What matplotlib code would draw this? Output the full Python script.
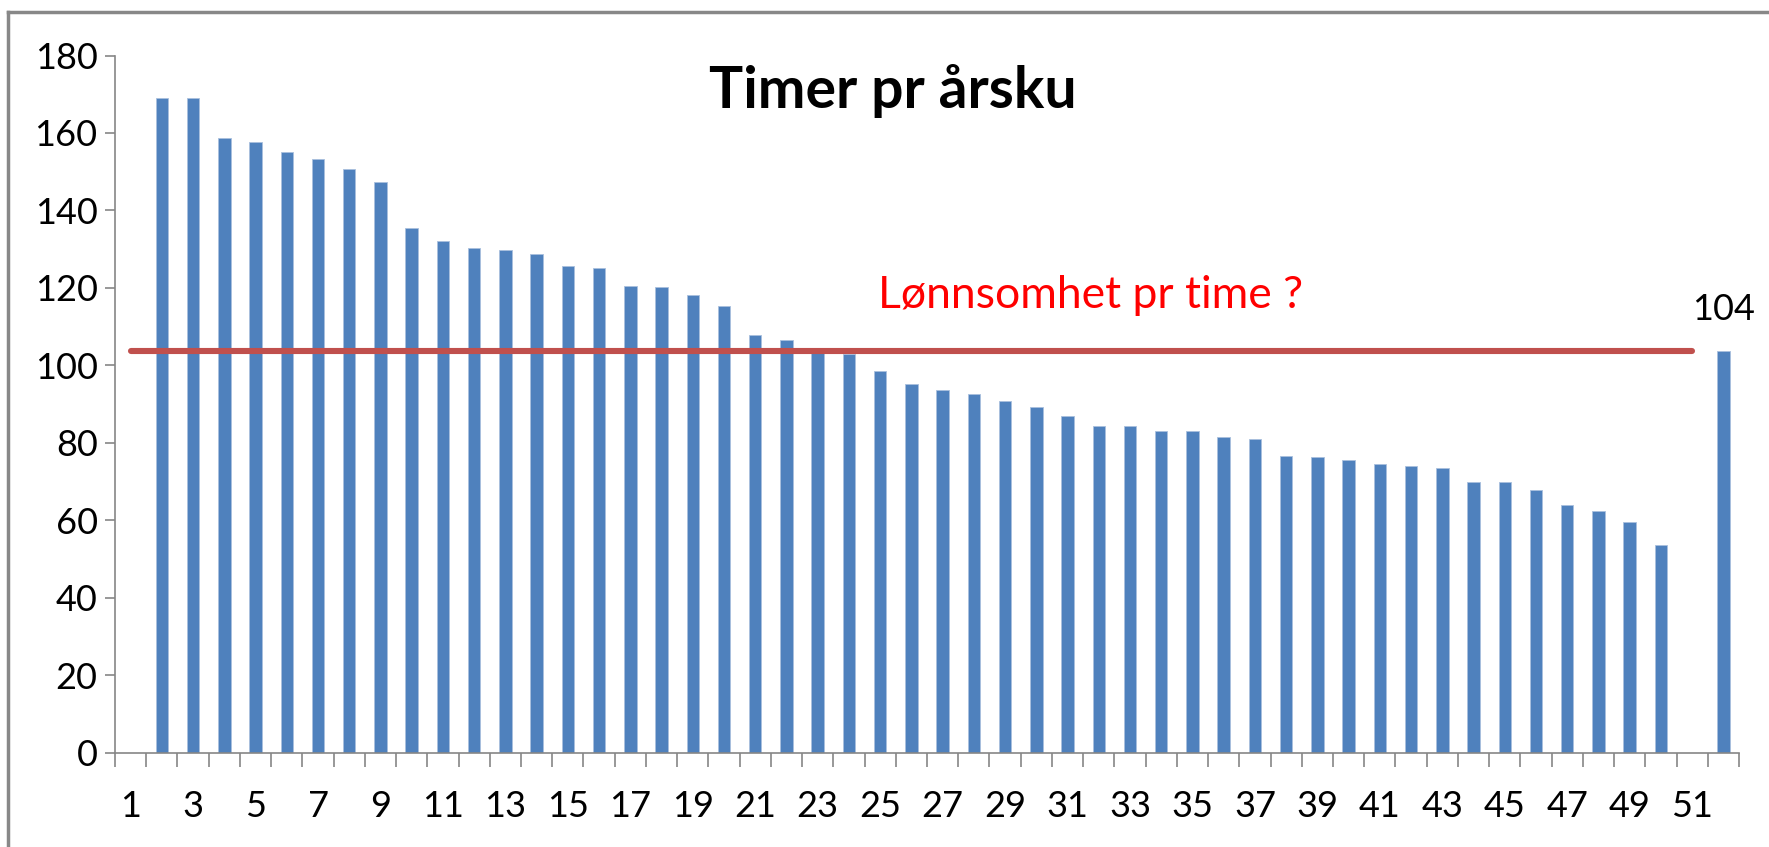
import numpy as np
import matplotlib
matplotlib.use("Agg")
import matplotlib.pyplot as plt
from matplotlib.lines import Line2D

plt.rcParams['font.family'] = ['Lato', 'DejaVu Sans']

# categories 1..52, category 1 and 51 are empty
categories = list(range(1, 53))
hours = [np.nan,
         169.0, 169.0, 158.7, 157.6, 155.2, 153.2, 150.7, 147.3, 135.5, 132.1,
         130.2, 129.7, 128.7, 125.6, 125.1, 120.6, 120.1, 118.2, 115.2, 107.9,
         106.5, 103.2, 103.0, 98.6, 95.2, 93.6, 92.7, 90.8, 89.3, 86.8,
         84.4, 84.4, 83.0, 83.0, 81.5, 81.0, 76.6, 76.2, 75.6, 74.6,
         74.1, 73.6, 69.8, 69.8, 67.8, 63.9, 62.4, 59.5, 53.6,
         np.nan, 103.6]
average = 103.6
line_cats = list(range(1, 52))
odd_labels = list(range(1, 52, 2))

fig = plt.figure(figsize=(17.69, 8.47), dpi=100)
ax = fig.add_axes([115 / 1769, 94.5 / 847, (1739 - 115) / 1769, (752.5 - 55.5) / 847])

bar_vals = [0 if np.isnan(v) else v for v in hours]
ax.bar(categories, bar_vals, width=0.4, color='#4F81BD', edgecolor='#A9C0DD', linewidth=0.6, zorder=2)

ax.plot(line_cats, [average] * len(line_cats), color='#C0504D', linewidth=4.4,
        solid_capstyle='round', zorder=3)

ax.text(categories[-1], hours[-1] + 8, f'{hours[-1]:.0f}', ha='center', va='baseline',
        fontsize=26, color='#000000')

ax.set_xlim(0.5, 52.5)
ax.set_ylim(0, 180)
ax.set_yticks(range(0, 181, 20))

# category boundaries as tick marks, labels on odd categories
ax.set_xticks(np.arange(0.5, 53, 1.0))
ax.set_xticklabels([])
ax.set_xticks(odd_labels, minor=True)
ax.set_xticklabels([str(c) for c in odd_labels], minor=True)
ax.tick_params(axis='x', which='major', length=10, width=1.2, color='#868686')
ax.tick_params(axis='x', which='minor', length=0, pad=27, labelsize=26)
ax.tick_params(axis='y', length=7.5, width=1.2, color='#868686', pad=5, labelsize=26)

for side in ['top', 'right']:
    ax.spines[side].set_visible(False)
for side in ['left', 'bottom']:
    ax.spines[side].set_color('#868686')
    ax.spines[side].set_linewidth(1.2)

fig.text(893 / 1769, 1 - 108 / 847, 'Timer pr årsku', ha='center', va='baseline',
         fontsize=41, fontweight='bold')
ax.text(31.75, 114.9, 'Lønnsomhet pr time ?', ha='center', va='baseline',
        fontsize=32, color='#FF0000')

# outer chart frame (top and left edges visible)
fig.add_artist(Line2D([8 / 1769, 1], [1 - 12 / 847, 1 - 12 / 847], color='#888888', linewidth=2.5))
fig.add_artist(Line2D([8 / 1769, 8 / 1769], [0, 1 - 12 / 847], color='#888888', linewidth=2.5))

fig.savefig('out.png', dpi=100)
